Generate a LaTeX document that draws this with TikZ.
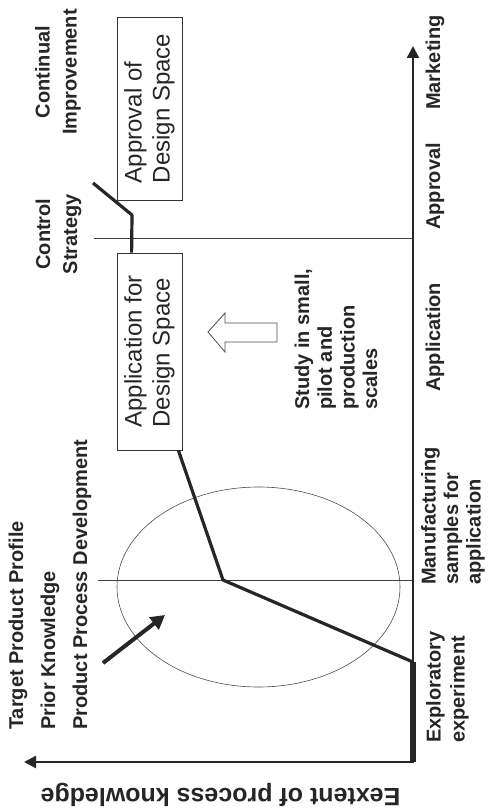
\documentclass[tikz,border=0pt]{standalone}
\usepackage{fontspec}
\setmainfont{Liberation Sans}
\usetikzlibrary{arrows.meta,calc}
\begin{document}
\begin{tikzpicture}[x=1pt,y=-1pt,
  axisline/.style={line width=2.4pt, draw=black!85},
  curveline/.style={line width=3.2pt, draw=black!85, line join=round},
  gridline/.style={line width=0.8pt, draw=black!75},
  lab/.style={font=\bfseries\fontsize{20}{24}\selectfont, text=black!85, inner sep=0pt, rotate=90, align=left},
  boxnode/.style={draw=black!80, line width=0.8pt, rotate=90, align=left, inner sep=0pt,
    font=\fontsize{24}{28}\selectfont, text=black!85}
]
\useasboundingbox (0,0) rectangle (488,810);

% coordinates
\coordinate (O) at (413,762);
\coordinate (ytip) at (413,46);
\coordinate (xtip) at (24,762);
\coordinate (v1) at (413,662);
\coordinate (v2) at (223,580);
\coordinate (c1) at (132,215);
\coordinate (c2) at (93,183);
\coordinate (g1a) at (94,238);
\coordinate (g1b) at (413,238);
\coordinate (g2a) at (98,580);
\coordinate (g2b) at (413,580);
\coordinate (ka) at (103,663);
\coordinate (kb) at (165,615);

% ellipse
\draw[line width=0.6pt, draw=black!70] (258.5,587) ellipse [x radius=141.5, y radius=100];

% grid lines
\draw[gridline] (g1a) -- (g1b);
\draw[gridline] (g2a) -- (g2b);

% boxes
\node[boxnode, minimum width=197pt, minimum height=65pt] (appbox) at (149.5,351.5) {Application for\\Design Space};
\node[boxnode, minimum width=183pt, minimum height=65pt] (aprbox) at (149.5,108.5) {Approval of\\Design Space};

% knowledge curve
\draw[line width=6pt, draw=black!85] (O) -- (v1);
\draw[curveline] (v1) -- (v2) -- ([xshift=-4pt]appbox.south west);
\draw[curveline] ([xshift=15pt]appbox.north east) -- (c1) -- (c2);

% axes
\draw[axisline, {Triangle[length=12pt,width=12pt]}-{Triangle[length=12pt,width=12pt]}] (xtip) -- (O) -- (ytip);

% thick arrow
\draw[line width=4pt, draw=black!85, -{Triangle[length=14pt,width=15pt]}] (ka) -- (kb);

% hollow block arrow
\draw[line width=0.8pt, draw=black!70, line join=miter] (208,332) -- (225,313) -- (225,323) -- (277,323) -- (277,342) -- (225,342) -- (225,352) -- cycle;

% stage labels
\node[lab, anchor=west] (mkt) at (435,110) {Marketing};
\node[lab, anchor=west] (apr) at (435,230) {Approval};
\node[lab, anchor=west] (appl) at (435,392) {Application};
\node[lab, anchor=west, font=\bfseries\fontsize{20}{22.5}\selectfont] (manu) at (453,585) {Manufacturing\\samples for\\application};
\node[lab, anchor=west] (expl) at (447.5,743) {Exploratory\\experiment};

% other labels
\node[lab, align=center, font=\bfseries\fontsize{20}{27}\selectfont] (cont) at (58,72) {Continual\\Improvement};
\node[lab, align=center, font=\bfseries\fontsize{20}{27}\selectfont] (ctrl) at (58.5,234) {Control\\Strategy};
\node[lab, anchor=west, font=\bfseries\fontsize{20}{32}\selectfont] (tpp) at (50,730) {Target Product Profile\\Prior Knowledge\\Product Process Development};
\node[lab, anchor=west, font=\bfseries\fontsize{20}{22.7}\selectfont] (study) at (336,410) {Study in small,\\pilot and\\production\\scales};

% y axis label
\node[font=\bfseries\fontsize{25}{30}\selectfont, text=black!85, inner sep=0pt, rotate=180, anchor=base] (ylab) at (220.5,788) {Eextent of process knowledge};
\end{tikzpicture}
\end{document}
